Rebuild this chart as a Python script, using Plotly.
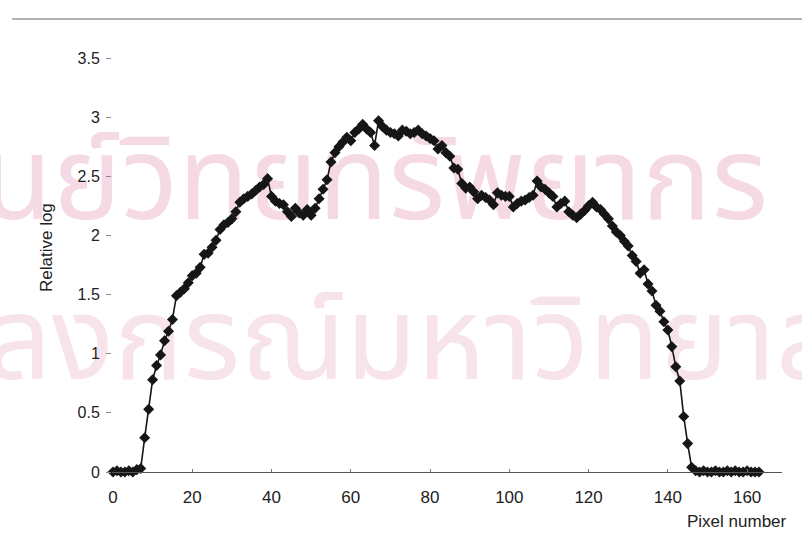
import plotly.graph_objects as go

# Relative log value measured at each pixel position along the profile
pixel = list(range(0, 164))
relative_log = [
    0.00, 0.01, 0.00, 0.00, 0.01, 0.00, 0.02, 0.03, 0.29, 0.53,
    0.78, 0.90, 0.99, 1.11, 1.19, 1.29, 1.49, 1.52, 1.55, 1.60,
    1.66, 1.68, 1.73, 1.84, 1.85, 1.90, 1.96, 2.05, 2.09, 2.11,
    2.14, 2.20, 2.28, 2.31, 2.33, 2.35, 2.38, 2.41, 2.43, 2.48,
    2.33, 2.29, 2.27, 2.26, 2.20, 2.16, 2.23, 2.19, 2.17, 2.22,
    2.17, 2.23, 2.31, 2.39, 2.47, 2.62, 2.70, 2.75, 2.79, 2.83,
    2.80, 2.87, 2.90, 2.94, 2.90, 2.87, 2.76, 2.97, 2.92, 2.89,
    2.87, 2.86, 2.84, 2.89, 2.88, 2.86, 2.87, 2.89, 2.86, 2.84,
    2.82, 2.80, 2.73, 2.76, 2.70, 2.67, 2.57, 2.56, 2.44, 2.40,
    2.41, 2.37, 2.31, 2.34, 2.32, 2.30, 2.26, 2.36, 2.34, 2.33,
    2.33, 2.24, 2.27, 2.29, 2.30, 2.32, 2.34, 2.46, 2.41, 2.39,
    2.36, 2.33, 2.24, 2.27, 2.29, 2.20, 2.17, 2.15, 2.18, 2.21,
    2.25, 2.28, 2.24, 2.22, 2.18, 2.14, 2.08, 2.03, 2.00, 1.95,
    1.91, 1.83, 1.78, 1.68, 1.71, 1.59, 1.53, 1.41, 1.36, 1.27,
    1.20, 1.06, 0.89, 0.77, 0.47, 0.24, 0.04, 0.01, 0.00, 0.01,
    0.00, 0.00, 0.01, 0.00, 0.00, 0.01, 0.00, 0.01, 0.00, 0.00,
    0.01, 0.00, 0.00, 0.00,
]

x_ticks = [0, 20, 40, 60, 80, 100, 120, 140, 160]
y_ticks = [0, 0.5, 1, 1.5, 2, 2.5, 3, 3.5]
y_tick_text = ["0", "0.5", "1", "1.5", "2", "2.5", "3", "3.5"]

watermark_lines = ["ศูนย์วิทยทรัพยากร", "จุฬาลงกรณ์มหาวิทยาลัย"]

W, H = 802, 537
ML, MR, MT, MB = 112, 20, 58, 65
plot_w = W - ML - MR
plot_h = H - MT - MB
X_RANGE = [-0.25, 168.8]
Y_RANGE = [0, 3.5]


def px_x(x):
    """Page pixel column -> paper x fraction."""
    return (x - ML) / plot_w


def px_y(y):
    """Page pixel row -> paper y fraction."""
    return (H - MB - y) / plot_h


def data_x(x):
    """Page pixel column -> x data value (for placing the background text)."""
    return X_RANGE[0] + px_x(x) * (X_RANGE[1] - X_RANGE[0])


def data_y(y):
    """Page pixel row -> y data value (for placing the background text)."""
    return Y_RANGE[0] + px_y(y) * (Y_RANGE[1] - Y_RANGE[0])


font_family = "Liberation Sans, Arial, sans-serif"
thai_family = "Noto Sans Thai, Noto Sans, DejaVu Sans, sans-serif"

fig = go.Figure()

# faint page watermark, drawn first so it sits underneath the profile
fig.add_trace(go.Scatter(
    x=[data_x(768)], y=[data_y(190)], mode="text", text=[watermark_lines[0]],
    textposition="middle left", cliponaxis=False, hoverinfo="skip", showlegend=False,
    textfont=dict(family=thai_family, size=116, color="#f5d9e4"),
))
fig.add_trace(go.Scatter(
    x=[data_x(355)], y=[data_y(350)], mode="text", text=[watermark_lines[1]],
    textposition="middle center", cliponaxis=False, hoverinfo="skip", showlegend=False,
    textfont=dict(family=thai_family, size=116, color="#f7e3eb"),
))

fig.add_trace(go.Scatter(
    x=pixel, y=relative_log,
    mode="lines+markers",
    line=dict(color="#161616", width=1.6),
    marker=dict(symbol="diamond", size=8.5, color="#161616"),
    cliponaxis=False,
    showlegend=False,
))

annotations = [
    dict(text="Relative log", x=px_x(46), y=px_y(248), xref="paper", yref="paper",
         showarrow=False, textangle=-90, xanchor="center", yanchor="middle",
         font=dict(size=17, color="#222")),
    dict(text="Pixel number", x=px_x(789), y=px_y(521), xref="paper", yref="paper",
         showarrow=False, xanchor="right", yanchor="middle",
         font=dict(size=17, color="#222")),
]

fig.update_layout(
    width=W, height=H,
    margin=dict(l=ML, r=MR, t=MT, b=MB),
    paper_bgcolor="white", plot_bgcolor="rgba(0,0,0,0)",
    font=dict(family=font_family, size=16, color="#222"),
    xaxis=dict(
        range=X_RANGE, tickvals=x_ticks, ticktext=[str(v) for v in x_ticks],
        showgrid=False, zeroline=False, showline=True, linecolor="#555", linewidth=1,
        ticks="inside", ticklen=3, tickcolor="#777", ticklabelstandoff=10,
        tickfont=dict(size=17, color="#222"),
    ),
    yaxis=dict(
        range=Y_RANGE, tickvals=y_ticks, ticktext=y_tick_text,
        showgrid=False, zeroline=False, showline=False,
        ticks="outside", ticklen=5, tickcolor="#888", ticklabelstandoff=3,
        tickfont=dict(size=16, color="#222"),
    ),
    annotations=annotations,
    shapes=[
        # page header rule
        dict(type="line", xref="paper", yref="paper", x0=px_x(12), x1=px_x(802),
             y0=px_y(19), y1=px_y(19), line=dict(color="#666", width=1.2)),
    ],
)

fig.write_html("out.html")
